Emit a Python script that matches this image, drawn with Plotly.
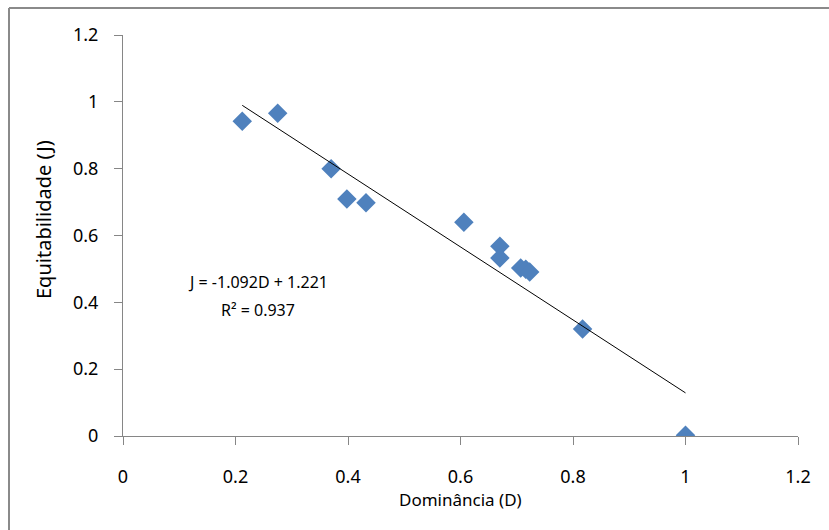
import plotly.graph_objects as go

# Dominância (D) and Equitabilidade (J) for each sample
dominancia = [0.212, 0.275, 0.370, 0.398, 0.432, 0.606, 0.670, 0.670, 0.707, 0.716, 0.723, 0.817, 1.000]
equitabilidade = [0.942, 0.966, 0.800, 0.709, 0.698, 0.640, 0.568, 0.533, 0.503, 0.499, 0.491, 0.320, 0.002]

# Linear trendline coefficients (J = slope*D + intercept)
slope = -1.092
intercept = 1.221
r_squared = 0.937

x_ticks = [0, 0.2, 0.4, 0.6, 0.8, 1, 1.2]
y_ticks = [0, 0.2, 0.4, 0.6, 0.8, 1, 1.2]

font_family = "Noto Sans, sans-serif"
axis_gray = "#868686"

# plot-area geometry in pixels, used to place the axis titles
L, R, T, B = 123, 798, 35, 436
W, H = R - L, B - T


def px_x(p):
    return (p - L) / W


def px_y(p):
    return (B - p) / H


trend_x = [min(dominancia), max(dominancia)]
trend_y = [slope * d + intercept for d in trend_x]

fig = go.Figure()
fig.add_trace(go.Scatter(
    x=dominancia, y=equitabilidade, mode="markers",
    marker=dict(symbol="diamond", size=15, color="#4F81BD",
                line=dict(width=0)),
    showlegend=False,
))
fig.add_trace(go.Scatter(
    x=trend_x, y=trend_y, mode="lines",
    line=dict(color="#000000", width=1),
    showlegend=False,
))

fig.update_layout(
    width=829, height=530,
    margin=dict(l=L, r=829 - R, t=T, b=530 - B),
    paper_bgcolor="white", plot_bgcolor="white",
    font=dict(family=font_family, size=18, color="#000000"),
    xaxis=dict(
        range=[0, 1.2], tickvals=x_ticks, ticktext=[f"{v:g}" for v in x_ticks],
        showgrid=False, zeroline=False, showline=True, linecolor=axis_gray, linewidth=1,
        ticks="outside", ticklen=8, tickcolor=axis_gray, ticklabelstandoff=16,
        tickfont=dict(size=18),
    ),
    yaxis=dict(
        range=[0, 1.2], tickvals=y_ticks, ticktext=[f"{v:g}" for v in y_ticks],
        showgrid=False, zeroline=False, showline=True, linecolor=axis_gray, linewidth=1,
        ticks="outside", ticklen=8, tickcolor=axis_gray, ticklabelstandoff=12,
        tickfont=dict(size=18),
    ),
    annotations=[
        dict(x=0.24, y=0.462, xref="x", yref="y", showarrow=False,
             text=f"J = {slope:.3f}D + {intercept:.3f}", font=dict(size=16)),
        dict(x=0.24, y=0.377, xref="x", yref="y", showarrow=False,
             text=f"R² = {r_squared:.3f}", font=dict(size=16)),
        # axis titles
        dict(x=0.5, y=px_y(499), xref="paper", yref="paper", showarrow=False,
             xanchor="center", yanchor="middle",
             text="Dominância (D)", font=dict(size=17)),
        dict(x=px_x(43), y=px_y(220), xref="paper", yref="paper", showarrow=False,
             xanchor="center", yanchor="middle", textangle=-90,
             text="Equitabilidade (J)", font=dict(size=20)),
    ],
    shapes=[
        # chart area frame (top and left edges)
        dict(type="line", xref="paper", yref="paper", x0=px_x(9), x1=px_x(840),
             y0=px_y(8), y1=px_y(8), line=dict(color="#8a8a8a", width=2)),
        dict(type="line", xref="paper", yref="paper", x0=px_x(9), x1=px_x(9),
             y0=px_y(8), y1=px_y(540), line=dict(color="#8a8a8a", width=2)),
    ],
)

fig.write_html("out.html")
